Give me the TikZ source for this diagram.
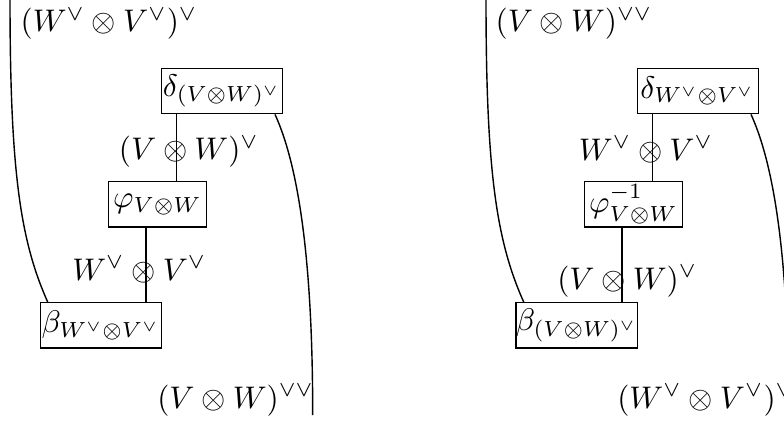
\documentclass[tikz,border=0pt]{standalone}
\begin{document}
\begin{tikzpicture}[x=0.32pt,y=-0.32pt,
  wire/.style={line width=0.45pt},
  bx/.style={draw, line width=0.45pt, inner sep=0pt, minimum height=14.5pt},
  wide/.style={bx, minimum width=38.72pt},
  narrow/.style={bx, minimum width=31.52pt},
  lab/.style={anchor=base west, inner sep=0pt}]
\clip (0,0) rectangle (784,424);
% ---------- left diagram ----------
\node[wide]   (dL) at (221.8,91)    {$\delta_{(V\otimes W)^\vee}$};
\node[narrow] (pL) at (157.5,204.35) {$\varphi_{V\otimes W}$};
\node[wide]   (bL) at (100.8,325.35) {$\beta_{W^\vee\otimes V^\vee}$};
\coordinate (tL) at (10,-2);
\coordinate (eL) at (312.7,415);
\coordinate (xa) at (176.7,0);
\coordinate (xb) at (146,0);
\coordinate (xc) at (47.7,0);
\coordinate (xd) at (275,0);
\draw[wire] (dL.south -| xa) -- (pL.north -| xa);
\draw[wire] (pL.south -| xb) -- (bL.north -| xb);
\draw[wire] (tL) .. controls (10,170) and (20,240) .. (bL.north -| xc);
\draw[wire] (dL.south -| xd) .. controls (305,180) and (312.7,300) .. (eL);
\node[lab] (l1) at (20,31.5)   {$(W^\vee\otimes V^\vee)^\vee$};
\node[lab] (l2) at (118.3,159.5) {$(V\otimes W)^\vee$};
\node[lab] (l3) at (71.7,280)  {$W^\vee\otimes V^\vee$};
\node[lab] (l4) at (156.7,408) {$(V\otimes W)^{\vee\vee}$};
% ---------- right diagram ----------
\node[wide]   (dR) at (697.8,91)    {$\delta_{W^\vee\otimes V^\vee}$};
\node[narrow] (pR) at (633.5,204.35) {$\varphi^{-1}_{V\otimes W}$};
\node[wide]   (bR) at (576.8,325.35) {$\beta_{(V\otimes W)^\vee}$};
\coordinate (tR) at (486,-2);
\coordinate (eR) at (788.7,415);
\coordinate (ya) at (652.7,0);
\coordinate (yb) at (622,0);
\coordinate (yc) at (523.7,0);
\coordinate (yd) at (751,0);
\draw[wire] (dR.south -| ya) -- (pR.north -| ya);
\draw[wire] (pR.south -| yb) -- (bR.north -| yb);
\draw[wire] (tR) .. controls (486,170) and (496,240) .. (bR.north -| yc);
\draw[wire] (dR.south -| yd) .. controls (781,180) and (788.7,300) .. (eR);
\node[lab] (r1) at (495,31.5)   {$(V\otimes W)^{\vee\vee}$};
\node[lab] (r2) at (578.3,160)  {$W^\vee\otimes V^\vee$};
\node[lab] (r3) at (556.7,289)  {$(V\otimes W)^\vee$};
\node[lab] (r4) at (616.7,408)  {$(W^\vee\otimes V^\vee)^\vee$};
\end{tikzpicture}
\end{document}
